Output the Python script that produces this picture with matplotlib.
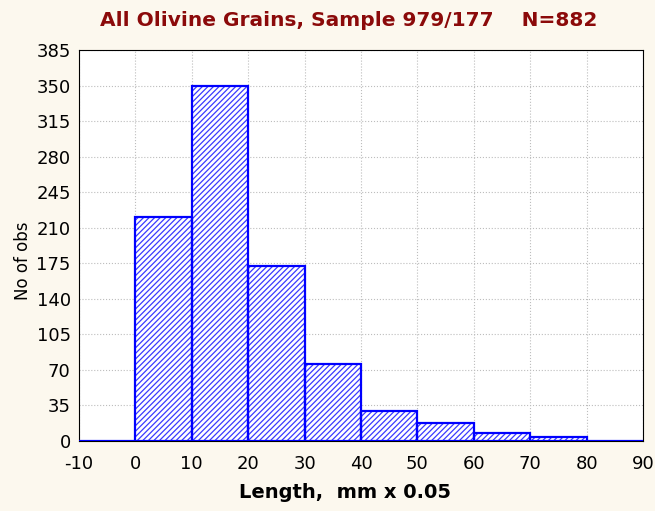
import matplotlib
matplotlib.use("Agg")
import matplotlib.pyplot as plt
import numpy as np

bin_left = [-10, 0, 10, 20, 30, 40, 50, 60, 70, 80]
counts = [0, 221, 350, 172, 76, 30, 18, 8, 4, 0]
x_ticks = [-10, 0, 10, 20, 30, 40, 50, 60, 70, 80, 90]
y_ticks = [0, 35, 70, 105, 140, 175, 210, 245, 280, 315, 350, 385]

plt.rcParams['font.family'] = ['DejaVu Sans']
plt.rcParams['axes.unicode_minus'] = False
plt.rcParams['hatch.color'] = '#3a3aff'
plt.rcParams['hatch.linewidth'] = 0.9

fig = plt.figure(figsize=(6.55, 5.11), dpi=100)
fig.patch.set_facecolor('#fcf8ee')
ax = fig.add_axes([79/655, 1-441/511, (643-79)/655, (441-50)/511])
ax.set_facecolor('white')

ax.bar(bin_left, counts, width=10, align='edge', facecolor='white',
       edgecolor='#3a3aff', linewidth=0, hatch='//////', zorder=3)
ax.bar(bin_left, counts, width=10, align='edge', facecolor='none',
       edgecolor='#0000ff', linewidth=1.6, zorder=4)

ax.set_xlim(-10, 90)
ax.set_ylim(0, 385)
ax.set_xticks(x_ticks)
ax.set_xticklabels([str(v) for v in x_ticks])
ax.set_yticks(y_ticks)
ax.set_yticklabels([str(v) for v in y_ticks])
ax.tick_params(axis='both', length=0, labelsize=13)
ax.tick_params(axis='x', pad=10)
ax.tick_params(axis='y', pad=6)
ax.grid(True, color='#bdbdbd', linestyle=':', linewidth=0.8, zorder=0)
for s in ax.spines.values():
    s.set_color('black')
    s.set_linewidth(0.8)

ax.set_xlabel('Length,  mm x 0.05', fontsize=14, fontweight='bold')
ax.xaxis.set_label_coords((345-79)/564, -(492-441)/391)
ax.xaxis.label.set_va('center')
ax.set_ylabel('No of obs', fontsize=12)
ax.yaxis.set_label_coords((23-79)/564, (441-261)/391)
ax.yaxis.label.set_va('center')
fig.text(349/655, 1-20/511, 'All Olivine Grains, Sample 979/177    N=882',
         ha='center', va='center', fontsize=14.5, fontweight='bold', color='#8b0a0a')

fig.savefig('out.png', dpi=100, facecolor=fig.get_facecolor())
